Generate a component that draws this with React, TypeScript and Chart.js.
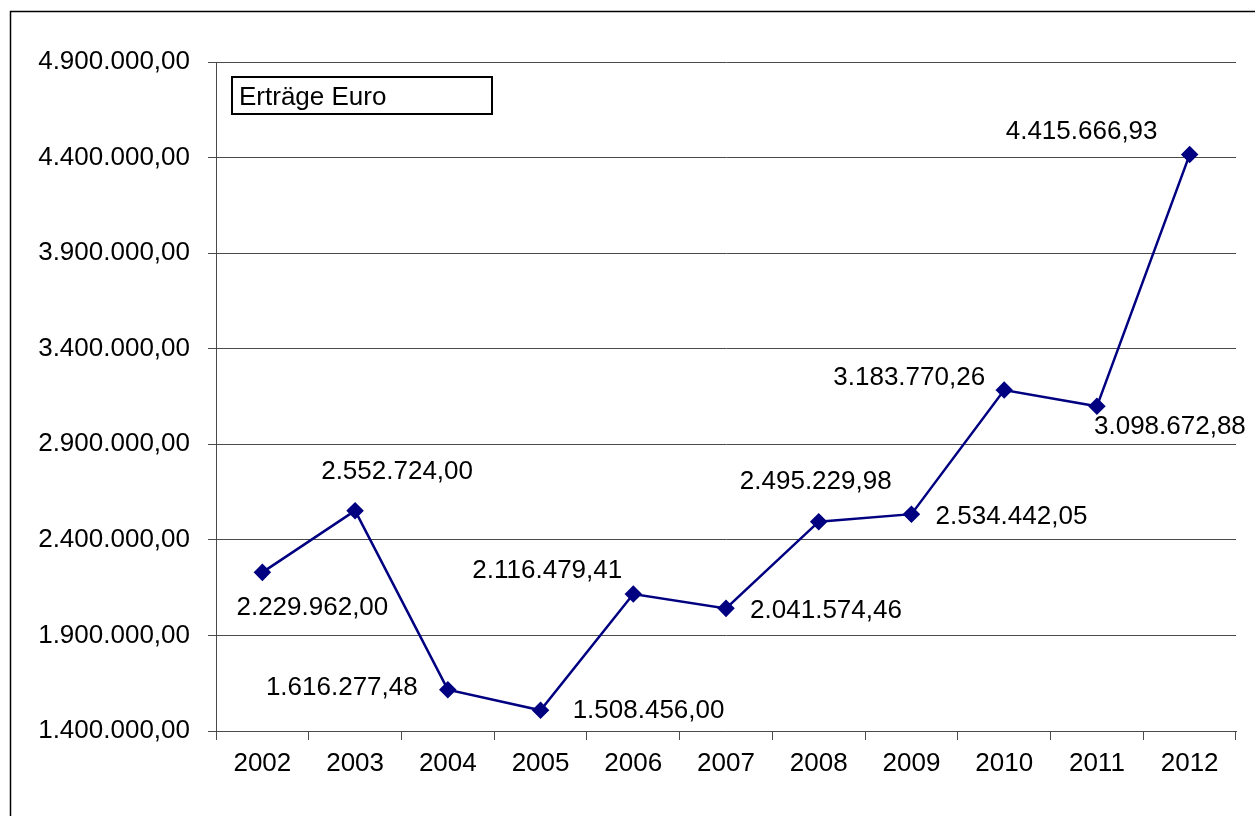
import { useEffect, useRef } from 'react';
import { Chart, registerables } from 'chart.js';

Chart.register(...registerables);

const categories = ['2002', '2003', '2004', '2005', '2006', '2007', '2008', '2009', '2010', '2011', '2012'];
const values = [
  2229962.0, 2552724.0, 1616277.48, 1508456.0, 2116479.41, 2041574.46,
  2495229.98, 2534442.05, 3183770.26, 3098672.88, 4415666.93,
];
const seriesLabel = 'Erträge Euro';
const yMin = 1400000;
const yMax = 4900000;
const yStep = 500000;
// label centre offset from its point, in px
const labelOffsets: [number, number][] = [
  [50, 35], [42, -39], [-106, -2], [108, 1], [-86, -23], [100, 2],
  [-3, -40], [100, 3], [-95, -12], [73, 21], [-108, -23],
];

const FONT = '"Liberation Sans", Arial, sans-serif';
const FONT_SIZE = 26;
const GRID = '#4a4a4a';
const NAVY = '#000080';

function fmt(v: number): string {
  const [i, d] = Math.abs(v).toFixed(2).split('.');
  return (v < 0 ? '-' : '') + i.replace(/\B(?=(\d{3})+(?!\d))/g, '.') + ',' + d;
}

const framePlugin = {
  id: 'frame',
  beforeDraw(chart: any) {
    const ctx = chart.ctx;
    ctx.save();
    ctx.fillStyle = '#fff';
    ctx.fillRect(0, 0, chart.width, chart.height);
    ctx.strokeStyle = '#000';
    ctx.lineWidth = 1.5;
    ctx.strokeRect(10.5, 11.5, chart.width + 50, chart.height + 50);
    ctx.restore();
  },
};

const valueLabelPlugin = {
  id: 'valueLabels',
  afterDatasetsDraw(chart: any) {
    const ctx = chart.ctx;
    const meta = chart.getDatasetMeta(0);
    const data = chart.data.datasets[0].data as number[];
    ctx.save();
    ctx.font = `${FONT_SIZE}px ${FONT}`;
    ctx.fillStyle = '#000';
    ctx.textAlign = 'center';
    ctx.textBaseline = 'middle';
    meta.data.forEach((pt: any, i: number) => {
      const [dx, dy] = labelOffsets[i] || [0, -30];
      ctx.fillText(fmt(data[i]), pt.x + dx, pt.y + dy);
    });
    ctx.restore();
  },
};

const legendBoxPlugin = {
  id: 'legendBox',
  afterDraw(chart: any) {
    const ctx = chart.ctx;
    const a = chart.chartArea;
    const x = a.left + 16;
    const y = a.top + 15;
    ctx.save();
    ctx.strokeStyle = '#000';
    ctx.lineWidth = 2;
    ctx.strokeRect(x, y, 260, 37);
    ctx.font = `${FONT_SIZE}px ${FONT}`;
    ctx.fillStyle = '#000';
    ctx.textAlign = 'left';
    ctx.textBaseline = 'middle';
    ctx.fillText(chart.data.datasets[0].label, x + 7, y + 21);
    ctx.restore();
  },
};

export default function App() {
  const ref = useRef<HTMLCanvasElement | null>(null);

  useEffect(() => {
    if (!ref.current) return;
    const chart = new Chart(ref.current, {
      type: 'line',
      data: {
        labels: categories,
        datasets: [
          {
            label: seriesLabel,
            data: values,
            borderColor: NAVY,
            backgroundColor: NAVY,
            borderWidth: 2.5,
            pointStyle: 'rectRot',
            pointRadius: 7,
            pointBackgroundColor: NAVY,
            pointBorderColor: NAVY,
            tension: 0,
            fill: false,
          },
        ],
      },
      options: {
        responsive: false,
        animation: false,
        devicePixelRatio: 1,
        layout: { padding: { top: 62, right: 19, bottom: 25, left: 0 } },
        plugins: {
          legend: { display: false },
          tooltip: { enabled: false },
          title: { display: false },
        },
        scales: {
          x: {
            type: 'category',
            offset: true,
            grid: {
              offset: true,
              drawOnChartArea: false,
              drawTicks: true,
              tickLength: 9,
              color: GRID,
              lineWidth: 1,
            },
            border: { color: GRID, width: 1 },
            ticks: {
              color: '#000',
              font: { family: FONT, size: FONT_SIZE },
              padding: 8,
              maxRotation: 0,
              autoSkip: false,
            },
            afterFit(s: any) {
              s.height = 60;
            },
          },
          y: {
            min: yMin,
            max: yMax,
            grid: { color: GRID, lineWidth: 1, tickLength: 8, drawTicks: true },
            border: { color: GRID, width: 1 },
            ticks: {
              stepSize: yStep,
              color: '#000',
              font: { family: FONT, size: FONT_SIZE },
              padding: 18,
              callback: (v: any) => fmt(Number(v)),
            },
            afterFit(s: any) {
              s.width = 216;
            },
          },
        },
      },
      plugins: [framePlugin, valueLabelPlugin, legendBoxPlugin],
    });
    return () => chart.destroy();
  }, []);

  return (
    <div style={{ position: 'fixed', left: 0, top: 0, width: 1255, height: 816, background: '#fff' }}>
      <canvas ref={ref} width={1255} height={816} style={{ display: 'block', width: 1255, height: 816 }} />
    </div>
  );
}
